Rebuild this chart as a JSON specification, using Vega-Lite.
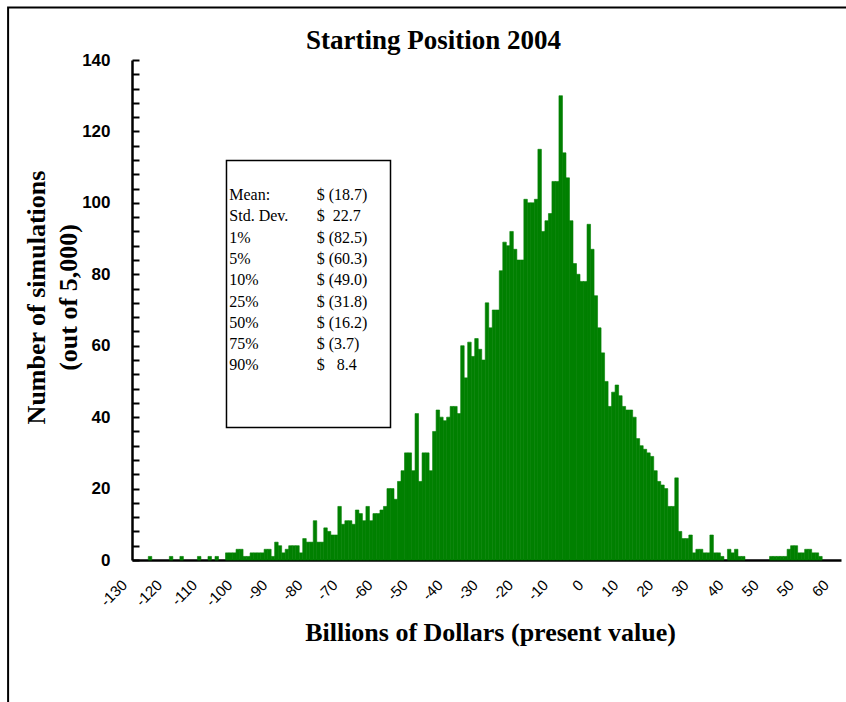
{
  "$schema": "https://vega.github.io/schema/vega-lite/v6.json",
  "width": 709,
  "height": 500,
  "autosize": {"type": "none"},
  "padding": {"left": 132, "top": 60, "right": 5, "bottom": 142},
  "background": "white",
  "config": {"view": {"stroke": null}},
  "title": {"text": "Starting Position 2004", "font": "Liberation Serif", "fontSize": 27, "fontWeight": "bold", "color": "black", "anchor": "middle", "frame": "group", "baseline": "alphabetic", "offset": 0, "dx": -53, "dy": 69},
  "datasets": {
    "bins": [
      {"lo": -125.5, "hi": -124.5, "n": 1}, {"lo": -119.5, "hi": -118.5, "n": 1}, {"lo": -116.5, "hi": -115.5, "n": 1},
      {"lo": -111.5, "hi": -110.5, "n": 1}, {"lo": -108.5, "hi": -107.5, "n": 1}, {"lo": -106.5, "hi": -105.5, "n": 1},
      {"lo": -103.5, "hi": -102.5, "n": 2}, {"lo": -102.5, "hi": -101.5, "n": 2}, {"lo": -101.5, "hi": -100.5, "n": 2},
      {"lo": -100.5, "hi": -99.5, "n": 3}, {"lo": -99.5, "hi": -98.5, "n": 3}, {"lo": -98.5, "hi": -97.5, "n": 1},
      {"lo": -97.5, "hi": -96.5, "n": 1}, {"lo": -96.5, "hi": -95.5, "n": 2}, {"lo": -95.5, "hi": -94.5, "n": 2},
      {"lo": -94.5, "hi": -93.5, "n": 2}, {"lo": -93.5, "hi": -92.5, "n": 2}, {"lo": -92.5, "hi": -91.5, "n": 3},
      {"lo": -91.5, "hi": -90.5, "n": 3}, {"lo": -90.5, "hi": -89.5, "n": 1}, {"lo": -89.5, "hi": -88.5, "n": 5},
      {"lo": -88.5, "hi": -87.5, "n": 4}, {"lo": -87.5, "hi": -86.5, "n": 2}, {"lo": -86.5, "hi": -85.5, "n": 3},
      {"lo": -85.5, "hi": -84.5, "n": 4}, {"lo": -84.5, "hi": -83.5, "n": 4}, {"lo": -83.5, "hi": -82.5, "n": 4},
      {"lo": -82.5, "hi": -81.5, "n": 2}, {"lo": -81.5, "hi": -80.5, "n": 6}, {"lo": -80.5, "hi": -79.5, "n": 5},
      {"lo": -79.5, "hi": -78.5, "n": 5}, {"lo": -78.5, "hi": -77.5, "n": 11}, {"lo": -77.5, "hi": -76.5, "n": 5},
      {"lo": -76.5, "hi": -75.5, "n": 5}, {"lo": -75.5, "hi": -74.5, "n": 9}, {"lo": -74.5, "hi": -73.5, "n": 8},
      {"lo": -73.5, "hi": -72.5, "n": 7}, {"lo": -72.5, "hi": -71.5, "n": 7}, {"lo": -71.5, "hi": -70.5, "n": 15},
      {"lo": -70.5, "hi": -69.5, "n": 10}, {"lo": -69.5, "hi": -68.5, "n": 11}, {"lo": -68.5, "hi": -67.5, "n": 11},
      {"lo": -67.5, "hi": -66.5, "n": 10}, {"lo": -66.5, "hi": -65.5, "n": 14}, {"lo": -65.5, "hi": -64.5, "n": 13},
      {"lo": -64.5, "hi": -63.5, "n": 11}, {"lo": -63.5, "hi": -62.5, "n": 15}, {"lo": -62.5, "hi": -61.5, "n": 11},
      {"lo": -61.5, "hi": -60.5, "n": 13}, {"lo": -60.5, "hi": -59.5, "n": 13}, {"lo": -59.5, "hi": -58.5, "n": 14},
      {"lo": -58.5, "hi": -57.5, "n": 15}, {"lo": -57.5, "hi": -56.5, "n": 20}, {"lo": -56.5, "hi": -55.5, "n": 20},
      {"lo": -55.5, "hi": -54.5, "n": 17}, {"lo": -54.5, "hi": -53.5, "n": 22}, {"lo": -53.5, "hi": -52.5, "n": 25},
      {"lo": -52.5, "hi": -51.5, "n": 30}, {"lo": -51.5, "hi": -50.5, "n": 30}, {"lo": -50.5, "hi": -49.5, "n": 25},
      {"lo": -49.5, "hi": -48.5, "n": 41}, {"lo": -48.5, "hi": -47.5, "n": 22}, {"lo": -47.5, "hi": -46.5, "n": 30},
      {"lo": -46.5, "hi": -45.5, "n": 30}, {"lo": -45.5, "hi": -44.5, "n": 25}, {"lo": -44.5, "hi": -43.5, "n": 36},
      {"lo": -43.5, "hi": -42.5, "n": 42}, {"lo": -42.5, "hi": -41.5, "n": 40}, {"lo": -41.5, "hi": -40.5, "n": 39},
      {"lo": -40.5, "hi": -39.5, "n": 40}, {"lo": -39.5, "hi": -38.5, "n": 43}, {"lo": -38.5, "hi": -37.5, "n": 43},
      {"lo": -37.5, "hi": -36.5, "n": 41}, {"lo": -36.5, "hi": -35.5, "n": 60}, {"lo": -35.5, "hi": -34.5, "n": 51},
      {"lo": -34.5, "hi": -33.5, "n": 61}, {"lo": -33.5, "hi": -32.5, "n": 57}, {"lo": -32.5, "hi": -31.5, "n": 62},
      {"lo": -31.5, "hi": -30.5, "n": 59}, {"lo": -30.5, "hi": -29.5, "n": 56}, {"lo": -29.5, "hi": -28.5, "n": 72},
      {"lo": -28.5, "hi": -27.5, "n": 65}, {"lo": -27.5, "hi": -26.5, "n": 70}, {"lo": -26.5, "hi": -25.5, "n": 70},
      {"lo": -25.5, "hi": -24.5, "n": 81}, {"lo": -24.5, "hi": -23.5, "n": 89}, {"lo": -23.5, "hi": -22.5, "n": 88},
      {"lo": -22.5, "hi": -21.5, "n": 92}, {"lo": -21.5, "hi": -20.5, "n": 87}, {"lo": -20.5, "hi": -19.5, "n": 84},
      {"lo": -19.5, "hi": -18.5, "n": 84}, {"lo": -18.5, "hi": -17.5, "n": 101}, {"lo": -17.5, "hi": -16.5, "n": 100},
      {"lo": -16.5, "hi": -15.5, "n": 100}, {"lo": -15.5, "hi": -14.5, "n": 101}, {"lo": -14.5, "hi": -13.5, "n": 115},
      {"lo": -13.5, "hi": -12.5, "n": 92}, {"lo": -12.5, "hi": -11.5, "n": 95}, {"lo": -11.5, "hi": -10.5, "n": 97},
      {"lo": -10.5, "hi": -9.5, "n": 106}, {"lo": -9.5, "hi": -8.5, "n": 106}, {"lo": -8.5, "hi": -7.5, "n": 130},
      {"lo": -7.5, "hi": -6.5, "n": 114}, {"lo": -6.5, "hi": -5.5, "n": 107}, {"lo": -5.5, "hi": -4.5, "n": 95},
      {"lo": -4.5, "hi": -3.5, "n": 83}, {"lo": -3.5, "hi": -2.5, "n": 80}, {"lo": -2.5, "hi": -1.5, "n": 78},
      {"lo": -1.5, "hi": -0.5, "n": 78}, {"lo": -0.5, "hi": 0.5, "n": 94}, {"lo": 0.5, "hi": 1.5, "n": 87},
      {"lo": 1.5, "hi": 2.5, "n": 74}, {"lo": 2.5, "hi": 3.5, "n": 65}, {"lo": 3.5, "hi": 4.5, "n": 58},
      {"lo": 4.5, "hi": 5.5, "n": 50}, {"lo": 5.5, "hi": 6.5, "n": 43}, {"lo": 6.5, "hi": 7.5, "n": 47},
      {"lo": 7.5, "hi": 8.5, "n": 49}, {"lo": 8.5, "hi": 9.5, "n": 46}, {"lo": 9.5, "hi": 10.5, "n": 43},
      {"lo": 10.5, "hi": 11.5, "n": 42}, {"lo": 11.5, "hi": 12.5, "n": 42}, {"lo": 12.5, "hi": 13.5, "n": 40},
      {"lo": 13.5, "hi": 14.5, "n": 34}, {"lo": 14.5, "hi": 15.5, "n": 32}, {"lo": 15.5, "hi": 16.5, "n": 31},
      {"lo": 16.5, "hi": 17.5, "n": 30}, {"lo": 17.5, "hi": 18.5, "n": 29}, {"lo": 18.5, "hi": 19.5, "n": 25},
      {"lo": 19.5, "hi": 20.5, "n": 22}, {"lo": 20.5, "hi": 21.5, "n": 21}, {"lo": 21.5, "hi": 22.5, "n": 20},
      {"lo": 22.5, "hi": 23.5, "n": 15}, {"lo": 23.5, "hi": 24.5, "n": 15}, {"lo": 24.5, "hi": 25.5, "n": 23},
      {"lo": 25.5, "hi": 26.5, "n": 8}, {"lo": 26.5, "hi": 27.5, "n": 6}, {"lo": 27.5, "hi": 28.5, "n": 6},
      {"lo": 28.5, "hi": 29.5, "n": 7}, {"lo": 29.5, "hi": 30.5, "n": 2}, {"lo": 30.5, "hi": 31.5, "n": 3},
      {"lo": 31.5, "hi": 32.5, "n": 3}, {"lo": 32.5, "hi": 33.5, "n": 2}, {"lo": 33.5, "hi": 34.5, "n": 2},
      {"lo": 34.5, "hi": 35.5, "n": 7}, {"lo": 35.5, "hi": 36.5, "n": 2}, {"lo": 36.5, "hi": 37.5, "n": 2},
      {"lo": 37.5, "hi": 38.5, "n": 1}, {"lo": 39.5, "hi": 40.5, "n": 3}, {"lo": 40.5, "hi": 41.5, "n": 2},
      {"lo": 41.5, "hi": 42.5, "n": 3}, {"lo": 42.5, "hi": 43.5, "n": 1}, {"lo": 43.5, "hi": 44.5, "n": 1},
      {"lo": 51.5, "hi": 52.5, "n": 1}, {"lo": 52.5, "hi": 53.5, "n": 1}, {"lo": 53.5, "hi": 54.5, "n": 1},
      {"lo": 54.5, "hi": 55.5, "n": 1}, {"lo": 55.5, "hi": 56.5, "n": 1}, {"lo": 56.5, "hi": 57.5, "n": 3},
      {"lo": 57.5, "hi": 58.5, "n": 4}, {"lo": 58.5, "hi": 59.5, "n": 4}, {"lo": 59.5, "hi": 60.5, "n": 2},
      {"lo": 60.5, "hi": 61.5, "n": 2}, {"lo": 61.5, "hi": 62.5, "n": 3}, {"lo": 62.5, "hi": 63.5, "n": 3},
      {"lo": 63.5, "hi": 64.5, "n": 2}, {"lo": 64.5, "hi": 65.5, "n": 2}, {"lo": 65.5, "hi": 66.5, "n": 1}
    ],
    "stats": [
      {"stat": "Mean:", "value": "$ (18.7)"},
      {"stat": "Std. Dev.", "value": "\u00a0$\u00a0\u00a022.7"},
      {"stat": "1%", "value": "$ (82.5)"},
      {"stat": "5%", "value": "$ (60.3)"},
      {"stat": "10%", "value": "$ (49.0)"},
      {"stat": "25%", "value": "$ (31.8)"},
      {"stat": "50%", "value": "$ (16.2)"},
      {"stat": "75%", "value": "$ (3.7)"},
      {"stat": "90%", "value": "$\u00a0\u00a0\u00a08.4"}
    ]
  },
  "resolve": {"scale": {"y": "independent"}},
  "layer": [
    {
      "layer": [
        {
          "data": {"values": [{}]},
          "mark": {"type": "rect", "fill": "white", "fillOpacity": 0, "stroke": "black", "strokeWidth": 2},
          "encoding": {
            "x": {"datum": -165.3, "type": "quantitative"},
            "x2": {"datum": 90},
            "y": {"datum": 154.7, "type": "quantitative"},
            "y2": {"datum": -60}
          }
        },
        {
          "data": {"name": "bins"},
          "mark": {"type": "bar", "color": "#008000", "stroke": "#008000", "strokeWidth": 0.6, "binSpacing": 0},
          "encoding": {
            "x": {
              "field": "lo", "type": "quantitative", "bin": "binned",
              "scale": {"domain": [-130, 72], "nice": false, "zero": false},
              "axis": {
                "values": [-130, -120, -110, -100, -90, -80, -70, -60, -50, -40, -30, -20, -10, 0, 10, 20, 30, 40, 50, 60, 70],
                "tickCount": 100,
                "labelExpr": "datum.value == 60 ? '50' : datum.value == 70 ? '60' : '' + datum.value",
                "ticks": false, "grid": false,
                "domainColor": "black", "domainWidth": 2.5,
                "labelAngle": -45, "labelAlign": "right", "labelBaseline": "middle",
                "labelFont": "Liberation Sans", "labelFontSize": 15, "labelColor": "black",
                "labelPadding": 22, "labelOffset": -8, "labelOverlap": false, "labelFlush": false, "labelBound": false,
                "title": "Billions of Dollars (present value)",
                "titleFont": "Liberation Serif", "titleFontSize": 26, "titleFontWeight": "bold", "titleColor": "black",
                "titleBaseline": "alphabetic", "titleAlign": "center", "titleX": 358, "titleY": 80
              }
            },
            "x2": {"field": "hi"},
            "y": {
              "field": "n", "type": "quantitative",
              "scale": {"domain": [0, 140], "nice": false},
              "axis": {
                "values": [0, 4, 8, 12, 16, 20, 24, 28, 32, 36, 40, 44, 48, 52, 56, 60, 64, 68, 72, 76, 80, 84, 88, 92, 96, 100, 104, 108, 112, 116, 120, 124, 128, 132, 136, 140],
                "tickCount": 100,
                "labelExpr": "datum.value % 20 == 0 ? '' + datum.value : ''",
                "grid": false,
                "domainColor": "black", "domainWidth": 2.5,
                "tickColor": "black", "tickWidth": 2, "tickSize": -7,
                "labelFont": "Liberation Sans", "labelFontSize": 17, "labelFontWeight": "bold", "labelColor": "black",
                "labelPadding": 29, "labelOverlap": false, "labelFlush": false,
                "title": ["Number of simulations", "(out of 5,000)"],
                "titleFont": "Liberation Serif", "titleFontSize": 26, "titleFontWeight": "bold", "titleColor": "black",
                "titleLineHeight": 32, "titleY": 237, "titlePadding": 0
              }
            }
          }
        },
        {
          "data": {"values": [{}]},
          "mark": {"type": "rect", "fill": "white", "stroke": "black", "strokeWidth": 1.5},
          "encoding": {
            "x": {"datum": -103.08, "type": "quantitative"},
            "x2": {"datum": -56.35},
            "y": {"datum": 111.86, "type": "quantitative"},
            "y2": {"datum": 37.1}
          }
        }
      ]
    },
    {
      "data": {"name": "stats"},
      "transform": [{"window": [{"op": "row_number", "as": "row"}]}],
      "encoding": {
        "y": {"field": "row", "type": "quantitative", "scale": {"domain": [-5.338, 18.136], "reverse": true, "nice": false, "zero": false}, "axis": null}
      },
      "layer": [
        {
          "mark": {"type": "text", "align": "left", "baseline": "middle", "font": "Liberation Serif", "fontSize": 16, "color": "black"},
          "encoding": {"x": {"datum": -102.28, "type": "quantitative"}, "text": {"field": "stat"}}
        },
        {
          "mark": {"type": "text", "align": "left", "baseline": "middle", "font": "Liberation Serif", "fontSize": 16, "color": "black"},
          "encoding": {"x": {"datum": -77.38, "type": "quantitative"}, "text": {"field": "value"}}
        }
      ]
    }
  ]
}
